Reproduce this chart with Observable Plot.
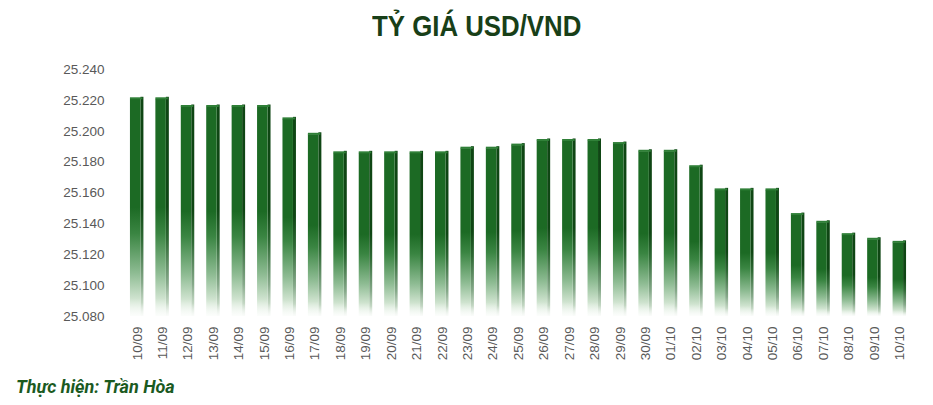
<!DOCTYPE html>
<html><head><meta charset="utf-8">
<script src="https://cdn.jsdelivr.net/npm/d3@7"></script>
<script src="https://cdn.jsdelivr.net/npm/@observablehq/plot@0.6"></script>
<style>
body{margin:0;background:#fff;width:933px;height:405px;overflow:hidden;font-family:"Liberation Sans",Arial,sans-serif}
#title{height:50px;line-height:52px;text-align:center;padding-left:20px;font-family:"Liberation Sans",Arial,sans-serif;font-weight:bold;font-size:30px;color:#183f18}
#title span{display:inline-block;transform:scaleX(0.86);transform-origin:center}
#chart{height:322px}
#caption{margin-top:4px;padding-left:16px;font-family:Roboto,"Liberation Sans",sans-serif;font-weight:bold;font-style:italic;font-size:18px;color:#1b5a1f}
</style></head><body>
<div id="title"><span>TỶ GIÁ USD/VND</span></div>
<div id="chart"></div>
<div id="caption">Thực hiện: Trần Hòa</div>
<script>
const dates = ["10/09","11/09","12/09","13/09","14/09","15/09","16/09","17/09","18/09","19/09","20/09","21/09","22/09","23/09","24/09","25/09","26/09","27/09","28/09","29/09","30/09","01/10","02/10","03/10","04/10","05/10","06/10","07/10","08/10","09/10","10/10"];
const rates = [25222,25222,25217,25217,25217,25217,25209,25199,25187,25187,25187,25187,25187,25190,25190,25192,25195,25195,25195,25193,25188,25188,25178,25163,25163,25163,25147,25142,25134,25131,25129];
const yTicks = [25080,25100,25120,25140,25160,25180,25200,25220,25240];
const yBase = 25080;

const data = dates.map((d, i) => ({date: d, rate: rates[i]}));
const fmt = v => d3.format(",")(v).replace(/,/g, ".");

function gradients() {
  const g = d3.create("svg:g");
  const defs = g.append("defs");
  const mk = (id, stops) => {
    const lg = defs.append("linearGradient").attr("id", id).attr("x1", 0).attr("y1", 0).attr("x2", 0).attr("y2", 1);
    stops.forEach(([o, c, a]) => lg.append("stop").attr("offset", o).attr("stop-color", c).attr("stop-opacity", a));
  };
  mk("gFront", [[0, "#1c6a24", 1], [0.5, "#1c6a24", 1], [0.62, "#3a8542", 1], [0.8, "#8dbb92", 1], [0.92, "#cfe3cf", 1], [0.94, "#dcebdc", 0.9], [1, "#f4f9f4", 0.3]]);
  mk("gSide", [[0, "#0f4614", 1], [0.5, "#0f4614", 1], [0.65, "#2f6a35", 1], [0.85, "#86a98a", 1], [0.94, "#bcd2bc", 0.9], [1, "#eef4ee", 0.3]]);
  return g.node();
}

const chart = Plot.plot({
  width: 933,
  height: 322,
  marginTop: 19,
  marginBottom: 56,
  marginLeft: 118,
  marginRight: 15,
  style: {fontFamily: "'Liberation Sans', Arial, sans-serif", fontSize: "13.5px", color: "#595959", background: "#fff"},
  x: {type: "band", domain: dates, padding: 0.47, round: false, label: null, tickSize: 0, tickPadding: 10, tickRotate: -90},
  y: {domain: [yBase, 25240], ticks: yTicks, tickFormat: fmt, tickSize: 0, tickPadding: 14, label: null},
  marks: [
    gradients,
    Plot.barY(data, {x: "date", y1: yBase, y2: "rate", fill: "url(#gSide)", insetLeft: 10.5}),
    Plot.barY(data, {x: "date", y1: yBase, y2: "rate", fill: "url(#gFront)", insetRight: 3, insetTop: 2}),
    Plot.tickY(data, {x: "date", y: "rate", stroke: "#2f7f37", strokeWidth: 2, dy: 1, insetRight: 1})
  ]
});
document.getElementById("chart").appendChild(chart);
</script>
</body></html>
